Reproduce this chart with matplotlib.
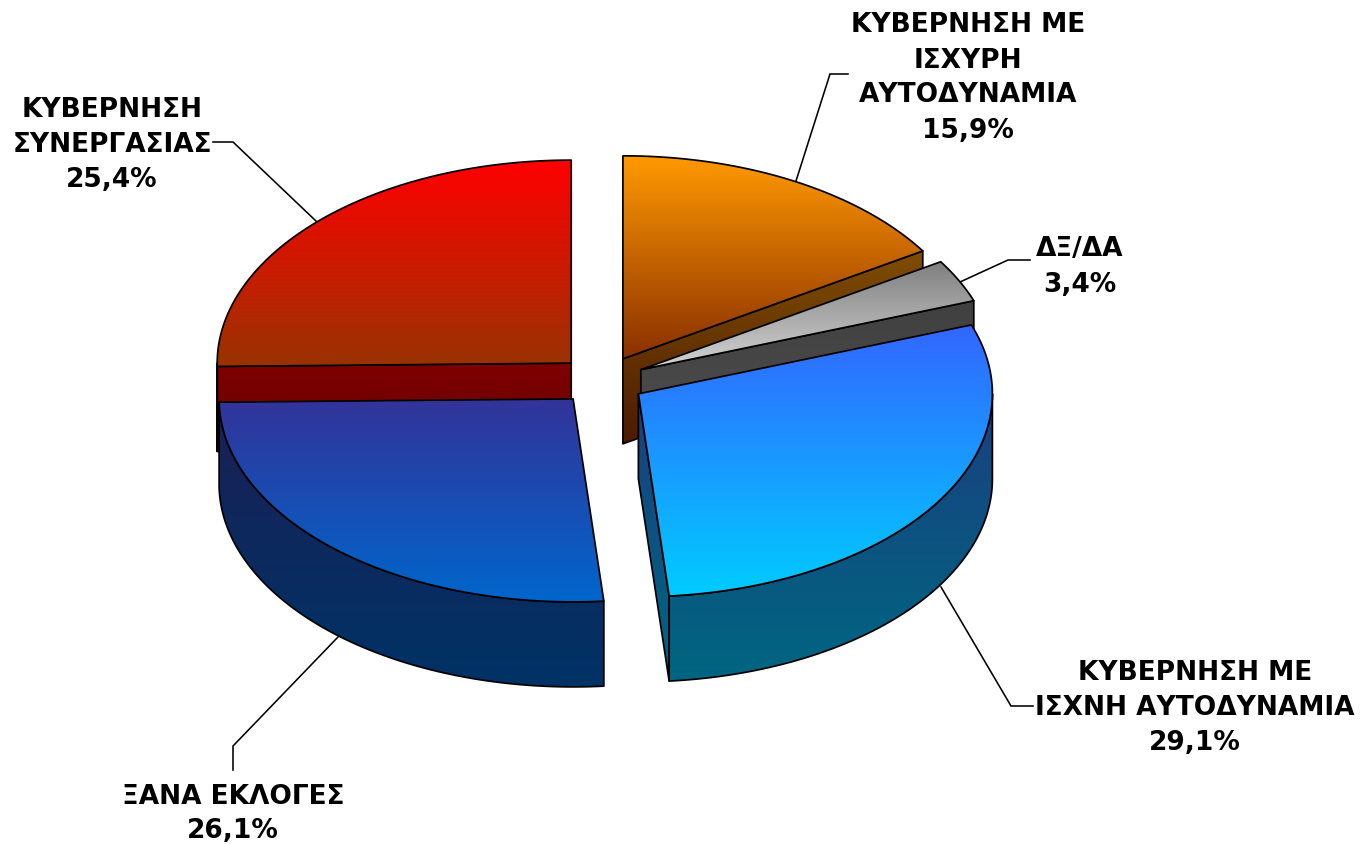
import numpy as np
import matplotlib
matplotlib.use("Agg")
import matplotlib.pyplot as plt
from matplotlib.colors import to_rgb
from matplotlib.patches import Polygon

# clockwise from 12 o'clock
names = ["ΚΥΒΕΡΝΗΣΗ ΜΕ\nΙΣΧΥΡΗ\nΑΥΤΟΔΥΝΑΜΙΑ", "ΔΞ/ΔΑ", "ΚΥΒΕΡΝΗΣΗ ΜΕ\nΙΣΧΝΗ ΑΥΤΟΔΥΝΑΜΙΑ",
         "ΞΑΝΑ ΕΚΛΟΓΕΣ", "ΚΥΒΕΡΝΗΣΗ\nΣΥΝΕΡΓΑΣΙΑΣ"]
values = [15.9, 3.4, 29.1, 26.1, 25.4]

top_colors = [("#FF9900", "#8A3000"), ("#808080", "#D4D4D4"), ("#3366FF", "#00CCFF"),
              ("#333399", "#0066CC"), ("#FF0000", "#993300")]
wall_colors = [("#7F4D00", "#4C1A00"), ("#404040", "#505050"), ("#1A3F80", "#006680"),
               ("#1A1F55", "#003366"), ("#7F0000", "#660000")]

label_pos = [(968, 78), (1080, 267), (1195, 708), (233, 814), (112, 145)]
leaders = [[(796, 181), (830, 74), (848, 74)],
           [(960, 282), (1008, 260), (1030, 260)],
           [(941, 587), (1011, 706), (1033, 706)],
           [(338, 637), (233, 746), (233, 770)],
           [(316, 221), (233, 142), (213, 142)]]

CX, CY = 602, 380.5
RX, RY = 354, 203
DEPTH = 85
EXPLODE = 0.122
ANGLE_NUDGE = 0.6  # the original's inner edges sit a little further round
LW = 1.25


def arc(apex, t0, t1):
    t = np.radians(np.linspace(t0, t1, 80))
    return np.column_stack([apex[0] + RX * np.sin(t), apex[1] - RY * np.cos(t)])


def grad_poly(ax, verts, colors, z):
    verts = np.asarray(verts)
    c0, c1 = np.array(to_rgb(colors[0])), np.array(to_rgb(colors[1]))
    f = np.linspace(0, 1, 256)[:, None]
    img = (c0 * (1 - f) + c1 * f)[:, None, :]
    x0, y0 = verts.min(axis=0)
    x1, y1 = verts.max(axis=0)
    im = ax.imshow(img, extent=(x0, x1, y1, y0), origin="upper", aspect="auto", zorder=z)
    p = Polygon(verts, closed=True, fc="none", ec="black", lw=LW, joinstyle="round", zorder=z + 0.5)
    ax.add_patch(p)
    im.set_clip_path(p)


fig = plt.figure(figsize=(13.69, 8.44), dpi=100)
ax = fig.add_axes([0, 0, 1, 1])

edges = np.cumsum([0] + values) / sum(values) * 360
edges[1:5] += ANGLE_NUDGE
down = np.array([0, DEPTH])
# back slices first, the blue ones sit in front
order = [4, 0, 1, 3, 2]
for n, i in enumerate(order):
    t0, t1 = edges[i], edges[i + 1]
    mid = np.radians((t0 + t1) / 2)
    apex = np.array([CX + EXPLODE * RX * np.sin(mid), CY - EXPLODE * RY * np.cos(mid)])
    rim = arc(apex, t0, t1)
    z = 2 + n * 3

    # cut face at the end of the slice
    if t1 < 180 or i == 4:
        tt = t0 if i == 4 else t1
        e = arc(apex, tt, tt)[0]
        grad_poly(ax, [apex, e, e + down, apex + down], wall_colors[i], z)
    # outer wall, only the part turned to the viewer
    a, b = max(t0, 90), min(t1, 270)
    if b > a:
        w = arc(apex, a, b)
        grad_poly(ax, np.vstack([w, (w + down)[::-1]]), wall_colors[i], z + 1)
    grad_poly(ax, np.vstack([apex, rim]), top_colors[i], z + 2)

for pts in leaders:
    ax.plot(*zip(*pts), color="black", lw=1.15, zorder=1, solid_joinstyle="miter")

for name, val, (x, y) in zip(names, values, label_pos):
    txt = name + "\n" + f"{val:.1f}".replace(".", ",") + "%"
    ax.text(x, y, txt, ha="center", va="center", fontsize=19, fontweight="bold",
            family="DejaVu Sans", linespacing=1.45, zorder=40)

ax.set_xlim(0, 1369)
ax.set_ylim(844, 0)
ax.axis("off")
fig.savefig("out.png", dpi=100)
